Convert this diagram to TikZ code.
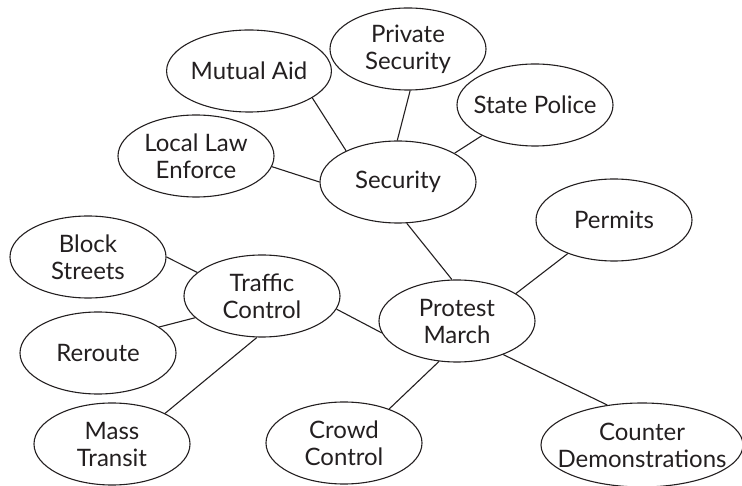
\documentclass[tikz,border=0pt]{standalone}
\usepackage{fontspec}
\setmainfont{Lato}
\usetikzlibrary{shapes.geometric}
\definecolor{ink}{RGB}{35,31,32}
\tikzset{
  ell/.style={ellipse, draw=ink, line width=1.1pt, minimum width=156pt, minimum height=82pt,
    inner sep=0pt, align=center, text=ink,
    font=\fontsize{24pt}{27pt}\selectfont},
  link/.style={draw=ink, line width=1.1pt}
}
\begin{document}
\begin{tikzpicture}[x=1pt,y=-1pt]
\useasboundingbox (0,0) rectangle (742,486);
\clip (0,0) rectangle (742,486);
\node[ell] (pm)  at (457,321) {Protest\\March};
\node[ell] (sec) at (398,182) {Security};
\node[ell] (pri) at (408,49)  {Private\\Security};
\node[ell] (mut) at (249,71)  {Mutual Aid};
\node[ell, inner xsep=-8pt] (loc) at (196,156) {Local Law\\Enforce};
\node[ell, inner xsep=-8pt] (sta) at (535,105) {State Police};
\node[ell] (per) at (614,220) {Permits};
\node[ell] (tra) at (262,296) {Traffic\\Control};
\node[ell] (blo) at (88,257)  {Block\\Streets};
\node[ell] (rer) at (98,353)  {Reroute};
\node[ell] (mas) at (112,444) {Mass\\Transit};
\node[ell] (cro) at (344,443) {Crowd\\Control};
\node[ell, minimum width=202pt, minimum height=84pt, inner xsep=-40pt] (cou) at (642,445) {Counter\\Demonstrations};
\draw[link] (mut.-23) -- (sec.149);
\draw[link] (pri.-87) -- (sec.91);
\draw[link] (loc.-8) -- (sec.180);
\draw[link] (sta.-150) -- (sec.27);
\draw[link] (sec.-78) -- (pm.97);
\draw[link] (per.-144) -- (pm.25);
\draw[link] (pm.-171) -- (tra.-10);
\draw[link] (pm.-114) -- (cro.37);
\draw[link] (pm.-36) -- (cou.131);
\draw[link] (tra.160) -- (blo.0);
\draw[link] (tra.-162) -- (rer.23);
\draw[link] (tra.-97) -- (mas.30);
\end{tikzpicture}
\end{document}
